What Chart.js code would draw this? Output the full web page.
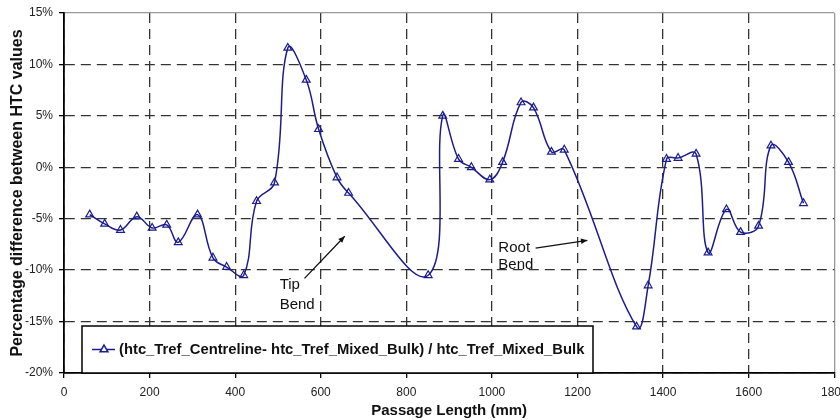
<!DOCTYPE html>
<html lang="en">
<head>
<meta charset="UTF-8">
<title>HTC percentage difference</title>
<script src="https://cdn.jsdelivr.net/npm/chart.js"></script>
<style>
  body {
    margin: 0;
    padding: 0;
    background: #fff;
  }
  .chart-box {
    position: relative;
    width: 840px;
    height: 420px;
  }
</style>
</head>
<body>
<div class="chart-box">
  <canvas id="htc-chart"></canvas>
</div>
<script>
  // values: passage length (mm) vs % difference
  const passageLength = [60, 95, 132, 170, 206, 240, 267, 312, 348, 380, 420, 450, 492, 523, 566, 595, 638, 665,
                         851, 885, 922, 952, 995, 1025, 1068, 1097, 1139, 1169, 1338, 1365, 1408, 1435, 1477,
                         1505, 1548, 1581, 1623, 1652, 1693, 1728];
  const htcDiff = [-4.6, -5.5, -6.1, -4.8, -5.9, -5.6, -7.3, -4.6, -8.8, -9.7, -10.5, -3.3, -1.5, 11.6, 8.5, 3.7, -1.0, -2.5,
                   -10.5, 5.0, 0.8, 0.0, -1.2, 0.5, 6.3, 5.8, 1.5, 1.7, -15.5, -11.5, 0.8, 0.9, 1.3,
                   -8.3, -4.1, -6.3, -5.7, 2.1, 0.5, -3.5];
  const seriesLabel = '(htc_Tref_Centreline- htc_Tref_Mixed_Bulk) / htc_Tref_Mixed_Bulk';

  const xRange = [0, 1800, 200];
  const yRange = [-20, 15, 5];

  // callout text (left edge, row centres in data units) and arrows
  const calloutLines = [['Tip', 'Bend'], ['Root', 'Bend']];
  const calloutAt = [[504, -11.4, -13.4], [1015, -7.8, -9.5]];
  const arrowFrom = [[562, -10.8], [1102, -7.85]];
  const arrowTo = [[656, -6.7], [1223, -7.1]];

  const lineColor = '#1c1c8c';
  const fontFamily = '"Liberation Sans", Arial, sans-serif';

  const points = passageLength.map((x, i) => ({ x: x, y: htcDiff[i] }));

  function isEdge(ctx, max) {
    return ctx.tick && ctx.tick.value === max;
  }

  // callouts with arrows
  const calloutPlugin = {
    id: 'callouts',
    afterDatasetsDraw(chart) {
      const c = chart.ctx;
      const xs = chart.scales.x, ys = chart.scales.y;
      c.save();
      c.fillStyle = '#111';
      c.strokeStyle = '#111';
      c.font = '15px ' + fontFamily;
      c.textAlign = 'left';
      c.textBaseline = 'middle';
      calloutLines.forEach((lines, i) => {
        const px = xs.getPixelForValue(calloutAt[i][0]);
        lines.forEach((t, j) => {
          c.fillText(t, px, ys.getPixelForValue(calloutAt[i][j + 1]));
        });
        const x1 = xs.getPixelForValue(arrowFrom[i][0]), y1 = ys.getPixelForValue(arrowFrom[i][1]);
        const x2 = xs.getPixelForValue(arrowTo[i][0]), y2 = ys.getPixelForValue(arrowTo[i][1]);
        c.lineWidth = 1.3;
        c.beginPath();
        c.moveTo(x1, y1);
        c.lineTo(x2, y2);
        c.stroke();
        const a = Math.atan2(y2 - y1, x2 - x1);
        c.beginPath();
        c.moveTo(x2, y2);
        c.lineTo(x2 - 7 * Math.cos(a - 0.4), y2 - 7 * Math.sin(a - 0.4));
        c.lineTo(x2 - 7 * Math.cos(a + 0.4), y2 - 7 * Math.sin(a + 0.4));
        c.closePath();
        c.fill();
      });
      c.restore();
    }
  };

  // boxed legend sitting on the bottom-left of the plot
  const boxLegendPlugin = {
    id: 'boxLegend',
    afterDraw(chart) {
      const c = chart.ctx;
      const area = chart.chartArea;
      const ds = chart.data.datasets[0];
      const left = area.left + 18, top = area.bottom - 47;
      const w = 511, h = 47;
      c.save();
      c.fillStyle = '#fff';
      c.fillRect(left, top, w, h);
      c.strokeStyle = '#000';
      c.lineWidth = 1.5;
      c.strokeRect(left, top, w, h);
      const cy = top + h / 2;
      c.strokeStyle = ds.borderColor;
      c.lineWidth = 1.5;
      c.beginPath();
      c.moveTo(left + 10, cy);
      c.lineTo(left + 33, cy);
      c.stroke();
      Chart.helpers.drawPoint(c, { pointStyle: 'triangle', radius: 4.5, borderWidth: 1.3, rotation: 0 }, left + 22, cy);
      c.fillStyle = '#111';
      c.font = 'bold 14.8px ' + fontFamily;
      c.textBaseline = 'middle';
      c.fillText(ds.label, left + 37, cy);
      c.restore();
    }
  };

  const ctx = document.getElementById('htc-chart').getContext('2d');
  const chart = new Chart(ctx, {
    type: 'scatter',
    data: {
      datasets: [{
        label: seriesLabel,
        data: points,
        showLine: true,
        borderColor: lineColor,
        borderWidth: 1.5,
        tension: 0.4,
        pointStyle: 'triangle',
        pointRadius: 4.5,
        pointBorderWidth: 1.2,
        pointBorderColor: lineColor,
        pointBackgroundColor: 'rgba(255,255,255,0)'
      }]
    },
    options: {
      responsive: true,
      maintainAspectRatio: false,
      animation: false,
      layout: { padding: { top: 13, right: 5, left: 0, bottom: 0 } },
      plugins: {
        legend: { display: false },
        tooltip: { enabled: false }
      },
      scales: {
        x: {
          type: 'linear',
          min: xRange[0],
          max: xRange[1],
          ticks: {
            stepSize: xRange[2],
            padding: 7,
            color: '#222',
            font: { family: fontFamily, size: 12 },
            callback: v => String(v)
          },
          grid: {
            color: c => isEdge(c, xRange[1]) ? '#999' : '#333',
            lineWidth: 1.3,
            tickLength: 5,
            tickColor: '#000',
            tickBorderDash: []
          },
          border: {
            color: '#000',
            width: 1.8,
            dash: c => (c.tick && c.tick.value !== xRange[1]) ? [10, 6] : []
          },
          title: {
            display: true,
            text: 'Passage Length (mm)',
            color: '#111',
            padding: { top: 0, bottom: 0 },
            font: { family: fontFamily, size: 15, weight: 'bold' }
          },
          afterFit(scale) {
            scale.height = 47;
            scale.paddingLeft = 0;
            scale.paddingRight = 0;
          }
        },
        y: {
          min: yRange[0],
          max: yRange[1],
          ticks: {
            stepSize: yRange[2],
            padding: 6,
            color: '#222',
            font: { family: fontFamily, size: 12 },
            callback: v => v + '%'
          },
          grid: {
            color: c => isEdge(c, yRange[1]) ? '#999' : '#333',
            lineWidth: 1.3,
            tickLength: 5,
            tickColor: '#000',
            tickBorderDash: []
          },
          border: {
            color: '#000',
            width: 1.8,
            dash: c => (c.tick && c.tick.value !== yRange[1]) ? [10, 6] : []
          },
          title: {
            display: true,
            text: 'Percentage difference between HTC values',
            color: '#111',
            padding: { top: 8, bottom: 0 },
            font: { family: fontFamily, size: 16, weight: 'bold' }
          },
          afterFit(scale) {
            scale.width = 64;
            scale.paddingTop = 0;
            scale.paddingBottom = 0;
          }
        }
      }
    },
    plugins: [calloutPlugin, boxLegendPlugin]
  });
</script>
</body>
</html>
